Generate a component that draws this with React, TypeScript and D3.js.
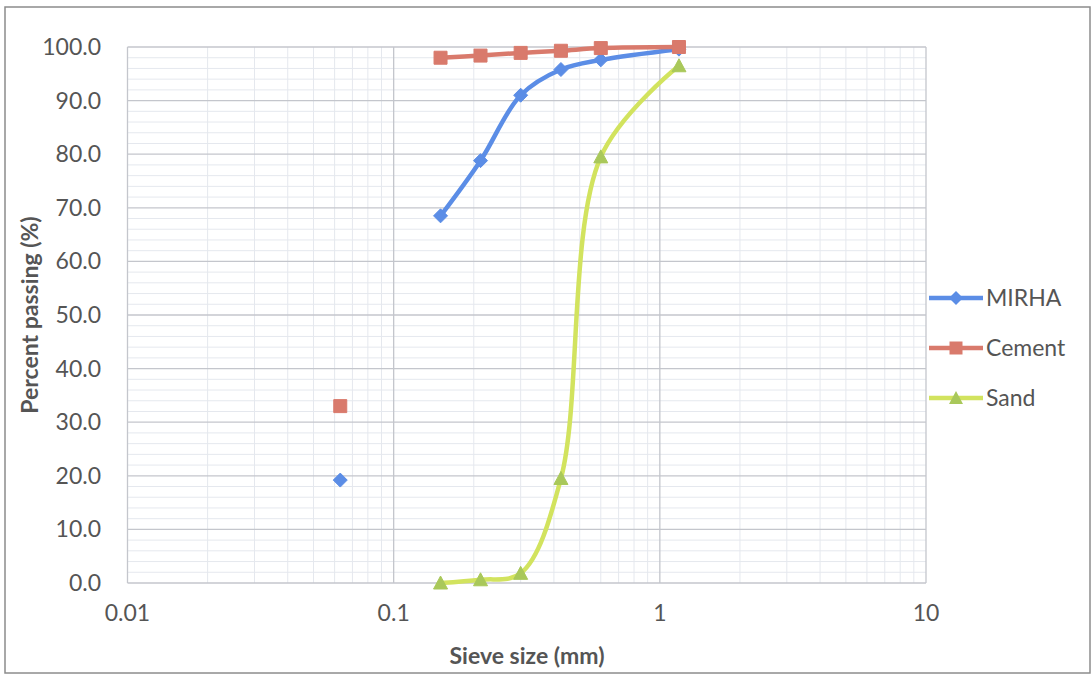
import React from "react";
import * as d3 from "d3";

// sieve sizes (mm) and percent passing
const sieves = [0.063, 0.15, 0.212, 0.3, 0.425, 0.6, 1.18];
const mirha = [19.2, 68.5, 78.8, 91.0, 95.8, 97.6, 99.6];
const cement = [33.0, 98.0, 98.4, 98.9, 99.3, 99.8, 100.0];
const sand = [null, 0.0, 0.6, 1.8, 19.5, 79.5, 96.5];

const yTicks = [0, 10, 20, 30, 40, 50, 60, 70, 80, 90, 100];
const xTicks = [0.01, 0.1, 1, 10];

const series = [
  { name: "MIRHA", values: mirha, color: "#5b8de6", marker: "diamond" },
  { name: "Cement", values: cement, color: "#d97a6c", marker: "square" },
  { name: "Sand", values: sand, color: "#d2e35e", marker: "triangle", markerColor: "#a9c85a" },
];

const W = 1092;
const H = 678;
const m = { left: 127.5, right: 926, top: 47, bottom: 583 };
const font = "Lato, 'Open Sans', sans-serif";
const fs = 23;

const x = d3.scaleLog().domain([0.01, 10]).range([m.left, m.right]);
const y = d3.scaleLinear().domain([0, 100]).range([m.bottom, m.top]);

const markerPath = (type: string, cx: number, cy: number) => {
  if (type === "diamond") {
    return `M${cx},${cy - 7}L${cx + 7},${cy}L${cx},${cy + 7}L${cx - 7},${cy}Z`;
  }
  if (type === "square") {
    return `M${cx - 6.5},${cy - 6.5}h13v13h-13Z`;
  }
  return `M${cx},${cy - 7}L${cx + 7},${cy + 6}L${cx - 7},${cy + 6}Z`;
};

const App: React.FC = () => {
  const minorX: number[] = [];
  [0.01, 0.1, 1].forEach((d) => {
    for (let k = 2; k <= 9; k++) minorX.push(d * k);
  });
  const minorY = d3.range(0, 101, 2).filter((v) => v % 10 !== 0);

  const line = d3
    .line<[number, number]>()
    .x((d) => x(d[0]))
    .y((d) => y(d[1]))
    .curve(d3.curveCatmullRom.alpha(0.5));

  return (
    <svg width={W} height={H} style={{ position: "absolute", left: 0, top: 0, background: "#fff" }}>
      <rect x={5} y={7} width={1085} height={666} fill="#fff" stroke="#8c8c8c" strokeWidth={1.5} />

      {/* grid */}
      {minorY.map((v) => (
        <line key={"my" + v} x1={m.left} x2={m.right} y1={y(v)} y2={y(v)} stroke="#e5e8ee" strokeWidth={1} />
      ))}
      {minorX.map((v) => (
        <line key={"mx" + v} x1={x(v)} x2={x(v)} y1={m.top} y2={m.bottom} stroke="#e5e8ee" strokeWidth={1} />
      ))}
      {yTicks.map((v) => (
        <line key={"gy" + v} x1={m.left} x2={m.right} y1={y(v)} y2={y(v)} stroke="#c4c6cc" strokeWidth={1.3} />
      ))}
      {xTicks.map((v) => (
        <line key={"gx" + v} x1={x(v)} x2={x(v)} y1={m.top} y2={m.bottom} stroke="#c4c6cc" strokeWidth={1.3} />
      ))}

      {/* tick labels */}
      {yTicks.map((v) => (
        <text key={"ty" + v} x={101} y={y(v) + 8} textAnchor="end" fontFamily={font} fontSize={fs} fill="#555">
          {v.toFixed(1)}
        </text>
      ))}
      {xTicks.map((v) => (
        <text key={"tx" + v} x={x(v)} y={621} textAnchor="middle" fontFamily={font} fontSize={fs} fill="#555">
          {String(v)}
        </text>
      ))}

      {/* axis titles */}
      <text x={527} y={664} textAnchor="middle" fontFamily={font} fontSize={fs} fontWeight="bold" fill="#555">
        Sieve size (mm)
      </text>
      <text
        transform={`translate(38,${(m.top + m.bottom) / 2}) rotate(-90)`}
        textAnchor="middle"
        fontFamily={font}
        fontSize={fs}
        fontWeight="bold"
        fill="#555"
      >
        Percent passing (%)
      </text>

      {/* series */}
      {series.map((s) => {
        const pts = sieves
          .map((sv, i) => [sv, s.values[i]] as [number, number | null])
          .filter((p) => p[1] !== null) as [number, number][];
        // first sieve (0.063) is plotted as an isolated point
        const linePts = pts.filter((p) => p[0] >= 0.15);
        return (
          <g key={s.name}>
            <path d={line(linePts) || ""} fill="none" stroke={s.color} strokeWidth={4.5} strokeLinecap="round" />
            {pts.map((p, i) => (
              <path
                key={i}
                d={markerPath(s.marker, x(p[0]), y(p[1]))}
                fill={s.markerColor || s.color}
                stroke={s.markerColor || s.color}
                strokeWidth={1}
              />
            ))}
          </g>
        );
      })}

      {/* legend */}
      {series.map((s, i) => {
        const ly = 298 + i * 50;
        return (
          <g key={"lg" + s.name}>
            <line x1={929} x2={983} y1={ly} y2={ly} stroke={s.color} strokeWidth={4.5} />
            <path d={markerPath(s.marker, 956, ly)} fill={s.markerColor || s.color} />
            <text x={986} y={ly + 8} fontFamily={font} fontSize={fs} fill="#555">
              {s.name}
            </text>
          </g>
        );
      })}
    </svg>
  );
};

export default App;
